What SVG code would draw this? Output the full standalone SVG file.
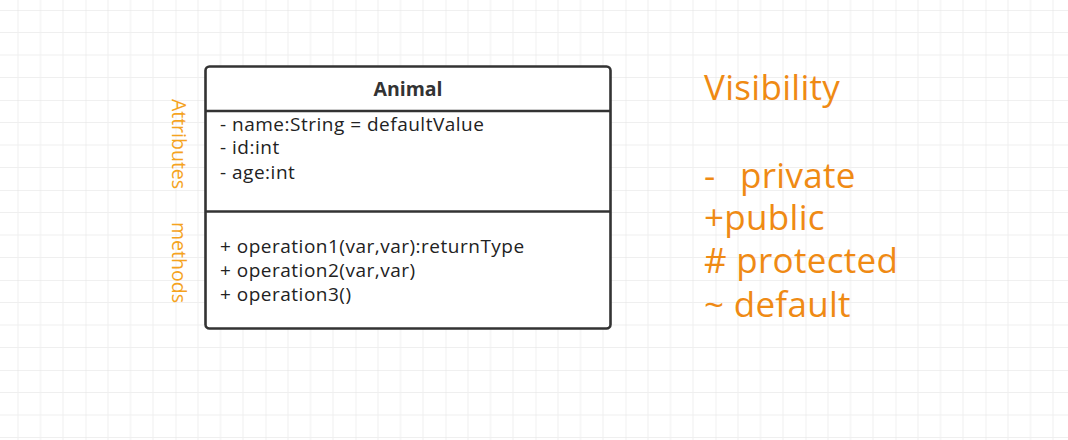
<svg xmlns="http://www.w3.org/2000/svg" width="1068" height="440" viewBox="0 0 1068 440">
<style>
.member{font-family:"Open Sans","Noto Sans",sans-serif;font-size:19px;letter-spacing:0.5px;fill:#222}
.title{font-family:"Open Sans","Noto Sans",sans-serif;font-size:19.5px;font-weight:bold;fill:#333}
.side{font-family:"Open Sans","Noto Sans",sans-serif;font-size:19.5px;fill:#F5A31E}
.vis{font-family:"Open Sans","Noto Sans",sans-serif;font-size:35px;letter-spacing:0.3px;fill:#EF8A14}
.box{fill:#fff;stroke:#333;stroke-width:2.6}
.div{stroke:#333;stroke-width:2.6}
</style>
<defs>
<pattern id="grid" x="85.5" y="10" width="90" height="90" patternUnits="userSpaceOnUse">
<path d="M22.5 0V90M45 0V90M67.5 0V90M0 22.5H90M0 45H90M0 67.5H90" stroke="#efefef" stroke-width="1" fill="none"/>
<path d="M0 0V90M0 0H90" stroke="#e2e2e2" stroke-width="1" fill="none"/>
</pattern>
</defs>
<rect width="1068" height="440" fill="#fff"/>
<rect width="1068" height="440" fill="url(#grid)"/>
<g id="animal">
<rect class="box" x="205.5" y="66.5" width="405" height="262" rx="4"/>
<line class="div" x1="205.5" y1="111" x2="610.5" y2="111"/>
<line class="div" x1="205.5" y1="211.5" x2="610.5" y2="211.5"/>
<text class="title" x="408" y="96" text-anchor="middle">Animal</text>
<text class="member" x="220" y="130.5">- name:String = defaultValue</text>
<text class="member" x="220" y="154">- id:int</text>
<text class="member" x="220" y="178.5">- age:int</text>
<text class="member" x="220" y="253">+ operation1(var,var):returnType</text>
<text class="member" x="220" y="277">+ operation2(var,var)</text>
<text class="member" x="220" y="301">+ operation3()</text>
</g>
<g id="label-attributes">
<text class="side" transform="translate(172,144) rotate(90)" text-anchor="middle">Attributes</text>
</g>
<g id="label-methods">
<text class="side" transform="translate(172,262.5) rotate(90)" text-anchor="middle">methods</text>
</g>
<g id="visibility">
<text class="vis" xml:space="preserve"><tspan x="704" y="100">Visibility</tspan><tspan x="704" y="188">-  </tspan><tspan x="740" y="188">private</tspan><tspan x="704" y="230">+public</tspan><tspan x="704" y="273"># protected</tspan><tspan x="704" y="316.5">~ default</tspan></text>
</g>
<g id="connectors"></g>
</svg>
